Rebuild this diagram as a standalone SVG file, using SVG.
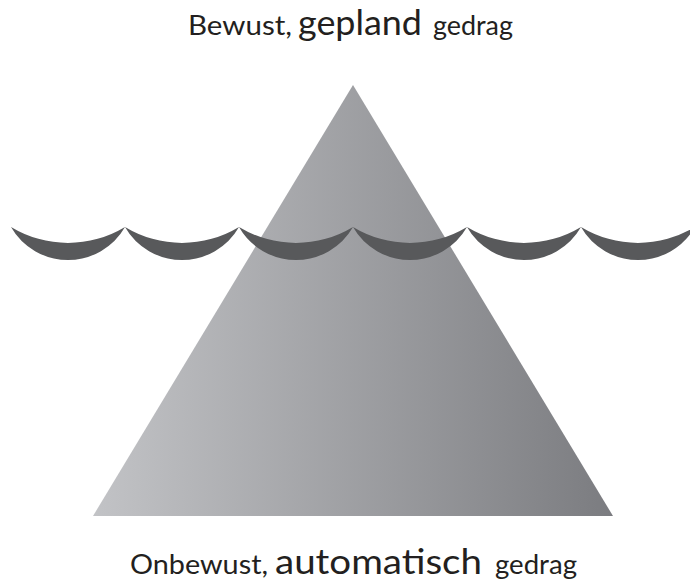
<svg xmlns="http://www.w3.org/2000/svg" width="690" height="580" viewBox="0 0 690 580">
<defs>
<linearGradient id="g" x1="93" y1="0" x2="613" y2="0" gradientUnits="userSpaceOnUse">
<stop offset="0" stop-color="#c2c3c6"/>
<stop offset="1" stop-color="#7b7c80"/>
</linearGradient>
<path id="wave" d="M0 0 A110 110 0 0 0 114 0 A65.7 65.7 0 0 1 0 0 Z"/>
</defs>
<style>
text{font-family:"Lato","Open Sans","Liberation Sans",sans-serif;fill:#231f20}
.w{fill:#58595b}
</style>
<g id="mountain"><polygon points="353,85 93,516 613,516" fill="url(#g)"/></g>
<g id="waves">
<use href="#wave" class="w" x="11" y="227"/>
<use href="#wave" class="w" x="125" y="227"/>
<use href="#wave" class="w" x="239" y="227"/>
<use href="#wave" class="w" x="353" y="227"/>
<use href="#wave" class="w" x="467" y="227"/>
<use href="#wave" class="w" x="581" y="227"/>
</g>
<g id="top-label">
<text y="35" font-size="26"><tspan x="188" textLength="104" lengthAdjust="spacingAndGlyphs">Bewust,</tspan><tspan x="298" font-size="34" textLength="124" lengthAdjust="spacingAndGlyphs">gepland</tspan><tspan x="433" textLength="80" lengthAdjust="spacingAndGlyphs">gedrag</tspan></text>
</g>
<g id="bottom-label">
<text y="574" font-size="26"><tspan x="130" textLength="138" lengthAdjust="spacingAndGlyphs">Onbewust,</tspan><tspan x="275" font-size="34" textLength="207" lengthAdjust="spacingAndGlyphs">automatisch</tspan><tspan x="495" textLength="82" lengthAdjust="spacingAndGlyphs">gedrag</tspan></text>
</g>
</svg>
